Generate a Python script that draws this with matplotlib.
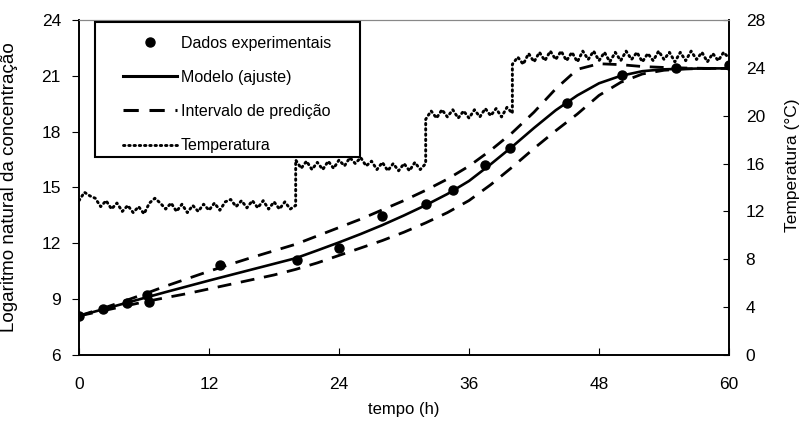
"""Growth curve: log concentration (data, fitted model, prediction band) with
incubation temperature on a secondary axis. Writes out.png."""
import numpy as np
import matplotlib
matplotlib.use("Agg")
import matplotlib.pyplot as plt
from matplotlib.lines import Line2D
from matplotlib.patches import Rectangle

plt.rcParams["font.family"] = ["Liberation Sans", "DejaVu Sans"]

# experimental points (h, ln conc)
exp_t = [0, 2.2, 4.4, 6.3, 6.5, 13.0, 20.1, 24.0, 28.0, 32.0, 34.5, 37.5, 39.8,
         45.0, 50.1, 55.1, 60.0]
exp_y = [8.1, 8.47, 8.8, 9.2, 8.87, 10.84, 11.1, 11.74, 13.48, 14.1, 14.85, 16.2,
         17.1, 19.55, 21.03, 21.43, 21.6]

# fitted model and prediction interval, read every 2 h
fit_t = np.arange(0, 61, 2)
fit_y = [8.1, 8.42, 8.74, 9.06, 9.38, 9.69, 10.0, 10.3, 10.6, 10.9, 11.2, 11.62,
         12.05, 12.5, 12.98, 13.5, 14.05, 14.65, 15.35, 16.25, 17.2, 18.2, 19.15,
         19.95, 20.6, 21.0, 21.25, 21.35, 21.38, 21.4, 21.4]
pi_hi = [8.1, 8.47, 8.86, 9.27, 9.7, 10.1, 10.5, 10.88, 11.25, 11.6, 11.95, 12.4,
         12.85, 13.3, 13.8, 14.3, 14.85, 15.45, 16.15, 17.0, 17.95, 19.05, 20.3,
         21.35, 21.65, 21.6, 21.5, 21.45, 21.42, 21.4, 21.4]
pi_lo = [8.1, 8.35, 8.6, 8.85, 9.08, 9.3, 9.55, 9.8, 10.05, 10.3, 10.6, 10.95,
         11.35, 11.75, 12.15, 12.6, 13.1, 13.65, 14.3, 15.15, 16.1, 17.1, 18.05,
         18.95, 19.95, 20.65, 21.1, 21.3, 21.37, 21.4, 21.4]

# temperature log, half-hourly, one list per set-point
temp_a = [12.9, 13.6, 13.3, 13.1, 12.4, 12.9, 12.2, 12.7, 12.0, 12.5, 11.9, 12.4,
          11.8, 12.7, 13.1, 12.7, 12.2, 12.7, 12.0, 12.6, 11.9, 12.5, 12.0, 12.6,
          12.1, 12.7, 12.1, 12.8, 13.0, 12.4, 12.9, 12.3, 12.9, 12.3, 12.9, 12.2,
          12.8, 12.2, 12.8, 12.2, 12.5]
temp_b = [16.3, 15.6, 16.2, 15.5, 16.1, 15.5, 16.2, 15.6, 16.3, 15.8, 16.5, 16.0,
          16.5, 15.8, 16.2, 15.5, 16.1, 15.4, 16.0, 15.4, 16.0, 15.4, 16.1, 15.5,
          16.0]
temp_c = [19.7, 20.4, 19.8, 20.5, 19.9, 20.5, 19.8, 20.4, 19.8, 20.5, 19.9, 20.6,
          20.0, 20.6, 19.9, 20.7, 20.2]
temp_d = [24.3, 24.9, 24.3, 25.2, 24.5, 25.3, 24.6, 25.4, 24.7, 25.4, 24.6, 25.3,
          24.5, 25.4, 24.7, 25.4, 24.6, 25.3, 24.5, 25.3, 24.6, 25.4, 24.7, 25.3,
          24.5, 25.2, 24.6, 25.4, 24.7, 25.3, 24.5, 25.3, 24.6, 25.4, 24.7, 25.3,
          24.5, 25.2, 24.6, 25.3, 24.8]
temp_starts = [0, 20, 32, 40]

temp_t, temp_v = [], []
for t0, seg in zip(temp_starts, [temp_a, temp_b, temp_c, temp_d]):
    temp_t += list(t0 + 0.5 * np.arange(len(seg)))
    temp_v += seg

fig = plt.figure(figsize=(8.03, 4.23), dpi=100)
ax = fig.add_axes([0.0984, 0.1608, 0.8095, 0.7919])
ax2 = ax.twinx()

dot = (0, (0.5, 1.3))
ax2.plot(temp_t, temp_v, color="black", lw=2.1, linestyle=dot,
         dash_capstyle="round")

dash = (0, (5, 3.5))
ax.plot(fit_t, pi_hi, color="black", lw=2.0, linestyle=dash)
ax.plot(fit_t, pi_lo, color="black", lw=2.0, linestyle=dash)
ax.plot(fit_t, fit_y, color="black", lw=1.9)
ax.plot(exp_t, exp_y, "o", color="black", ms=6.5, zorder=5)

ax.set_xlim(0, 60)
ax.set_ylim(6, 24)
ax.set_xticks(range(0, 61, 12))
ax.set_yticks(range(6, 25, 3))
ax2.set_ylim(0, 28)
ax2.set_yticks(range(0, 29, 4))

ax.tick_params(axis="x", direction="in", length=5, pad=16, labelsize=12.5)
ax.tick_params(axis="y", direction="out", length=5, pad=8, labelsize=12.5)
ax2.tick_params(axis="y", direction="in", length=4, pad=12, labelsize=12.5)
narrow = ["Liberation Sans Narrow", "Liberation Sans"]
for lab in ax.get_xticklabels():
    lab.set_family(narrow)

for a in (ax, ax2):
    for side in ("left", "bottom", "right"):
        a.spines[side].set_linewidth(1.2)
    a.spines["top"].set_color("#888888")
    a.spines["top"].set_linewidth(0.8)

ax.set_xlabel("tempo (h)", fontsize=12, family=narrow)
ax.xaxis.set_label_coords(0.5, -0.14)
ax.set_ylabel("Logaritmo natural da concentração", fontsize=13.5)
ax.yaxis.set_label_coords(-0.094, 0.5)
ax2.set_ylabel("Temperatura (°C)", fontsize=12.5)
ax2.yaxis.set_label_coords(1.086, 0.567)

# legend box drawn separately so its side padding can be wider than top/bottom
ax2.add_patch(Rectangle((0.0246, 0.591), 0.4077, 0.403, transform=ax2.transAxes,
                        facecolor="white", edgecolor="black", lw=1.5, zorder=4,
                        clip_on=False))
handles = [
    Line2D([], [], marker="o", ls="none", color="black", ms=6.5),
    Line2D([], [], color="black", lw=2.2),
    Line2D([], [], color="black", lw=2.2, linestyle=dash),
    Line2D([], [], color="black", lw=2.1, linestyle=dot, dash_capstyle="round"),
]
labels = ["Dados experimentais", "Modelo (ajuste)", "Intervalo de predição",
          "Temperatura"]
leg = ax2.legend(handles, labels, loc="upper left", bbox_to_anchor=(0.0677, 0.953),
                 fontsize=11.5, frameon=False, borderpad=0,
                 handlelength=3.4, handletextpad=0.2, labelspacing=1.2,
                 borderaxespad=0)
leg.set_zorder(5)

fig.savefig("out.png", dpi=100)
